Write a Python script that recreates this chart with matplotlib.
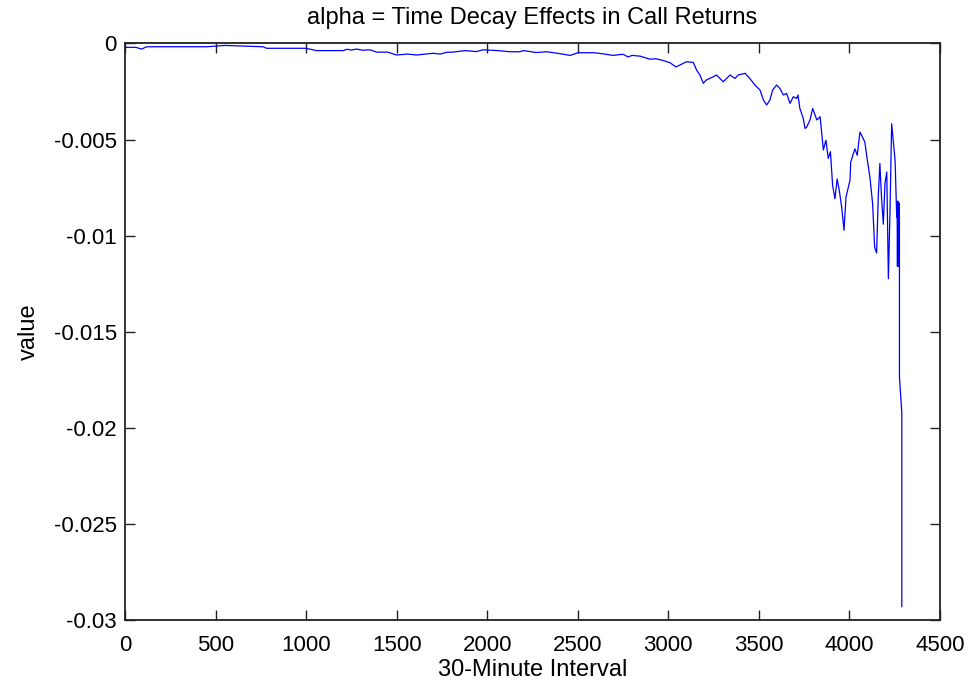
import matplotlib
matplotlib.use("Agg")
import matplotlib.pyplot as plt

# vertices: (30-minute interval, alpha value)
trace = [
    (0, -0.0002), (60, -0.0002), (92, -0.00029), (120, -0.00017),
    (451, -0.00017), (552, -0.0001), (762, -0.00017), (782, -0.00025),
    (1000, -0.00025), (1058, -0.00037), (1205, -0.00037), (1226, -0.0003),
    (1250, -0.00034), (1280, -0.00029), (1310, -0.00035), (1353, -0.00033),
    (1390, -0.00045), (1450, -0.00045), (1500, -0.0006), (1560, -0.00055),
    (1610, -0.0006), (1701, -0.00051), (1740, -0.00055), (1776, -0.00046),
    (1810, -0.00045), (1877, -0.00037), (1940, -0.00042), (1977, -0.00033),
    (2060, -0.00037), (2126, -0.00043), (2180, -0.00043), (2200, -0.00037),
    (2270, -0.00047), (2328, -0.00043), (2402, -0.00053), (2457, -0.00062),
    (2502, -0.00048), (2590, -0.00048), (2640, -0.00054), (2695, -0.00062),
    (2750, -0.00056), (2778, -0.0007), (2800, -0.00062), (2845, -0.00066),
    (2899, -0.00082), (2930, -0.00079), (2970, -0.00088), (3009, -0.001),
    (3042, -0.00122), (3064, -0.00112), (3101, -0.00095), (3138, -0.00099),
    (3156, -0.00138), (3175, -0.00165), (3193, -0.00207), (3210, -0.0019),
    (3248, -0.00173), (3266, -0.00164), (3285, -0.00182), (3303, -0.00199),
    (3341, -0.00164), (3368, -0.00182), (3386, -0.00164), (3424, -0.00155),
    (3450, -0.00182), (3478, -0.00216), (3506, -0.00242), (3525, -0.00294),
    (3543, -0.0032), (3561, -0.00294), (3576, -0.00242), (3598, -0.00216),
    (3616, -0.00234), (3635, -0.00268), (3653, -0.0026), (3672, -0.00312),
    (3690, -0.00277), (3708, -0.00286), (3716, -0.00268), (3726, -0.00337),
    (3745, -0.0039), (3755, -0.00442), (3764, -0.00435), (3782, -0.00398),
    (3797, -0.00338), (3820, -0.00398), (3838, -0.00381), (3856, -0.00554),
    (3870, -0.00503), (3883, -0.00598), (3895, -0.00563), (3907, -0.00738),
    (3920, -0.00808), (3932, -0.00705), (3944, -0.00765), (3957, -0.00851),
    (3970, -0.00972), (3981, -0.00799), (4003, -0.00712), (4007, -0.00617),
    (4030, -0.00548), (4043, -0.00582), (4058, -0.00461), (4072, -0.00487),
    (4085, -0.00513), (4099, -0.00608), (4113, -0.00695), (4128, -0.00834),
    (4139, -0.0106), (4150, -0.0109), (4159, -0.00799), (4168, -0.00624),
    (4177, -0.00799), (4187, -0.0094), (4196, -0.0073), (4206, -0.00669),
    (4215, -0.01224), (4224, -0.00868), (4233, -0.00418), (4252, -0.00608),
    (4261, -0.00903), (4263, -0.0083), (4265, -0.0116), (4267, -0.0082),
    (4269, -0.0116), (4271, -0.0085), (4273, -0.0115), (4275, -0.0083),
    (4276, -0.0092), (4276, -0.01735), (4289, -0.0192), (4289, -0.0293),
]
interval = [p[0] for p in trace]
alpha = [p[1] for p in trace]

xticks = list(range(0, 4501, 500))
yticks = [-0.03, -0.025, -0.02, -0.015, -0.01, -0.005, 0]
yticklabels = ['-0.03', '-0.025', '-0.02', '-0.015', '-0.01', '-0.005', '0']

plt.rcParams['font.family'] = ['Liberation Sans', 'DejaVu Sans']

fig = plt.figure(figsize=(9.74, 6.86), dpi=100)
ax = fig.add_axes([0.1283, 0.0962, 0.8368, 0.8404])

ax.plot(interval, alpha, color=(0, 0, 1), linewidth=0.9)

ax.set_xlim(0, 4500)
ax.set_ylim(-0.03, 0)
ax.set_xticks(xticks)
ax.set_xticklabels([str(v) for v in xticks])
ax.set_yticks(yticks)
ax.set_yticklabels(yticklabels)
ax.tick_params(direction='in', length=7, width=1, top=True, right=True,
               labelsize=16, colors='#222222', labelcolor='black')
ax.tick_params(axis='x', pad=11)
ax.tick_params(axis='y', pad=6)
for s in ax.spines.values():
    s.set_linewidth(1.3)
    s.set_color('#222222')

ax.set_title('alpha = Time Decay Effects in Call Returns', fontsize=17, pad=14)
ax.set_xlabel('30-Minute Interval', fontsize=17, labelpad=2)
ax.set_ylabel('value', fontsize=17, labelpad=10)

fig.savefig('out.png', dpi=100)
